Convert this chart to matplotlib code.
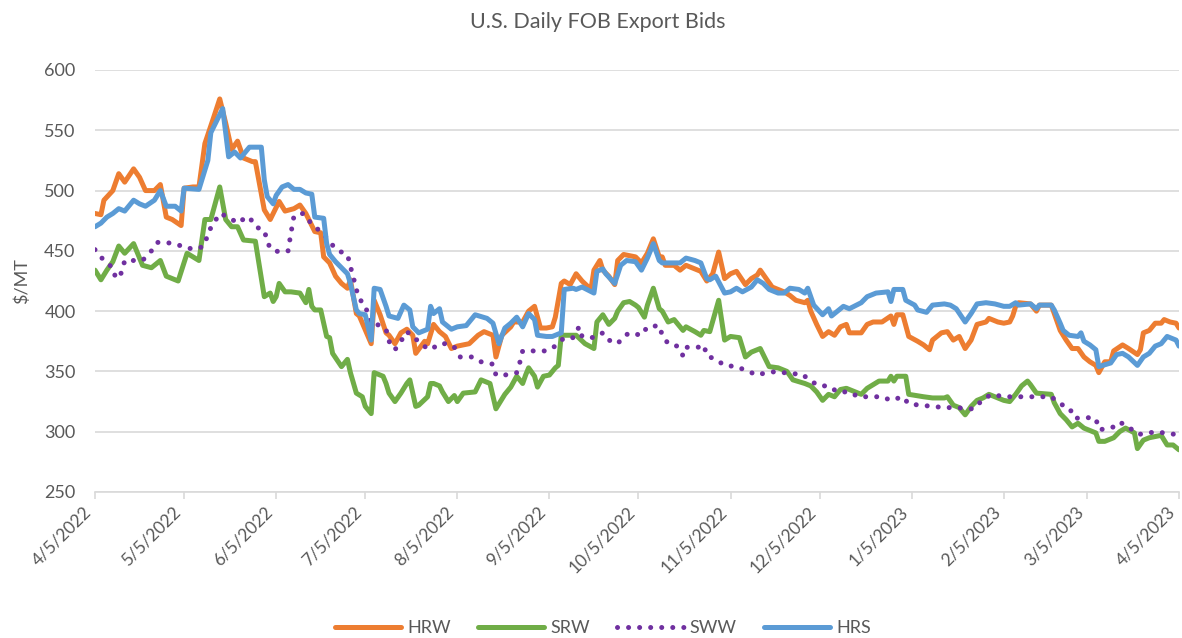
import pandas as pd
import matplotlib
matplotlib.use('Agg')
import matplotlib.pyplot as plt

plt.rcParams['font.family'] = ['Lato', 'DejaVu Sans']

start = pd.Timestamp('2022-04-05')
end = pd.Timestamp('2023-04-05')

# days counted from 4/5/2022, values in $/MT
hrw_day = [0, 2, 3, 6, 8, 10, 13, 15, 17, 20, 22, 24, 26, 29, 30, 33, 35, 37, 40, 42,
           44, 46, 48, 50, 53, 54, 57, 59, 62, 64, 67, 69, 71, 72, 74, 76, 77, 79, 81, 83,
           85, 86, 88, 89, 93, 94, 96, 98, 99, 101, 103, 105, 107, 108, 111, 112, 114, 116, 118, 120,
           122, 124, 126, 129, 131, 134, 135, 137, 140, 141, 144, 146, 148, 150, 152, 154, 155, 157, 158, 160,
           162, 164, 167, 168, 170, 171, 173, 175, 176, 178, 182, 184, 186, 188, 190, 191, 192, 195, 197, 199,
           201, 204, 206, 208, 210, 212, 214, 216, 219, 221, 223, 224, 226, 228, 230, 232, 234, 236, 239, 240,
           241, 243, 245, 247, 249, 251, 253, 254, 258, 260, 262, 265, 268, 269, 270, 272, 274, 277, 279, 281,
           282, 285, 287, 289, 291, 293, 295, 297, 300, 301, 304, 306, 308, 309, 310, 311, 315, 317, 318, 322,
           323, 325, 327, 329, 331, 333, 335, 337, 338, 340, 342, 343, 346, 348, 351, 352, 353, 355, 357, 359,
           360, 362, 364, 365]
hrw = [481, 480, 492, 500, 514, 507, 518, 511, 500, 500, 505, 478, 476, 471, 502, 503, 503, 539, 561, 576,
       556, 534, 541, 527, 524, 524, 484, 476, 491, 483, 485, 488, 481, 476, 466, 465, 445, 440, 429, 423,
       419, 426, 398, 396, 373, 409, 397, 382, 380, 373, 382, 385, 380, 365, 375, 373, 389, 383, 379, 369,
       371, 372, 373, 380, 383, 380, 362, 380, 387, 391, 391, 400, 404, 386, 386, 387, 395, 423, 425, 422,
       431, 425, 418, 434, 442, 434, 429, 422, 442, 447, 445, 440, 448, 460, 445, 445, 438, 438, 434, 438,
       436, 433, 425, 431, 449, 427, 431, 433, 422, 427, 430, 434, 427, 420, 418, 416, 413, 409, 407, 409,
       400, 389, 379, 383, 380, 387, 389, 382, 382, 389, 391, 391, 396, 389, 397, 397, 379, 375, 372, 368,
       376, 382, 383, 376, 379, 369, 376, 389, 391, 394, 391, 390, 391, 396, 404, 407, 406, 400, 405, 405,
       398, 384, 376, 369, 369, 362, 358, 355, 349, 358, 358, 367, 372, 369, 364, 368, 382, 384, 390, 390,
       393, 391, 390, 386]

srw_day = [0, 2, 4, 6, 8, 10, 13, 16, 19, 22, 24, 28, 31, 35, 37, 39, 42, 44, 46, 48,
           50, 54, 57, 59, 60, 61, 62, 64, 66, 69, 71, 72, 73, 74, 76, 78, 79, 80, 83, 85,
           86, 88, 90, 91, 93, 94, 97, 98, 99, 101, 103, 105, 106, 108, 109, 112, 113, 114, 116, 117,
           119, 121, 122, 124, 128, 130, 133, 135, 138, 140, 142, 144, 145, 146, 148, 149, 151, 153, 155, 156,
           157, 160, 162, 165, 168, 169, 171, 173, 175, 176, 178, 180, 182, 183, 185, 186, 188, 190, 191, 193,
           195, 198, 199, 202, 204, 205, 207, 210, 212, 214, 217, 219, 221, 224, 227, 230, 233, 235, 239, 241,
           243, 245, 247, 249, 251, 253, 258, 260, 262, 264, 267, 268, 269, 270, 273, 274, 279, 282, 286, 287,
           289, 291, 293, 295, 297, 299, 301, 304, 306, 308, 310, 312, 314, 315, 317, 322, 323, 325, 327, 329,
           331, 333, 336, 337, 338, 340, 343, 345, 347, 350, 351, 353, 355, 357, 359, 361, 363, 365]
srw = [434, 426, 434, 441, 454, 448, 456, 438, 436, 442, 429, 425, 448, 442, 476, 476, 503, 476, 470, 470,
       459, 458, 412, 415, 408, 412, 423, 416, 416, 415, 407, 418, 404, 401, 401, 379, 378, 365, 354, 360,
       349, 332, 329, 321, 315, 349, 346, 340, 332, 325, 332, 340, 343, 321, 322, 329, 340, 340, 338, 333,
       325, 330, 325, 332, 333, 343, 340, 319, 331, 337, 346, 340, 347, 353, 346, 337, 346, 347, 353, 355,
       380, 380, 380, 373, 369, 391, 397, 389, 394, 400, 407, 408, 405, 403, 395, 405, 419, 402, 400, 391,
       393, 384, 387, 383, 380, 384, 383, 409, 376, 379, 378, 362, 366, 369, 354, 353, 350, 343, 340, 338,
       333, 326, 331, 329, 335, 336, 331, 336, 339, 342, 342, 346, 342, 346, 346, 331, 329, 328, 328, 329,
       322, 320, 314, 321, 326, 328, 331, 328, 326, 325, 331, 338, 342, 339, 332, 331, 324, 315, 310, 304,
       307, 303, 300, 299, 292, 292, 295, 300, 303, 299, 286, 293, 295, 296, 297, 289, 289, 285]

sww_day = [0, 3, 6, 7, 9, 10, 13, 16, 19, 21, 24, 28, 31, 35, 37, 38, 40, 42, 45, 48,
           51, 52, 54, 57, 58, 59, 62, 65, 66, 67, 70, 72, 75, 77, 79, 82, 85, 86, 87, 88,
           89, 91, 92, 93, 95, 98, 99, 101, 103, 105, 108, 110, 113, 116, 119, 121, 123, 127, 130, 134,
           135, 138, 142, 143, 144, 148, 152, 155, 158, 161, 163, 164, 168, 171, 173, 176, 178, 180, 184, 186,
           190, 191, 193, 196, 198, 199, 203, 205, 206, 209, 212, 216, 219, 223, 226, 230, 234, 238, 241, 244,
           247, 250, 254, 257, 261, 265, 268, 272, 274, 278, 282, 286, 290, 294, 296, 299, 302, 306, 310, 314,
           318, 322, 325, 328, 330, 333, 337, 338, 340, 343, 345, 348, 351, 353, 357, 360, 363, 365]
sww = [451, 442, 436, 427, 432, 442, 442, 442, 450, 457, 457, 455, 452, 452, 455, 465, 473, 481, 478, 473,
       478, 478, 470, 467, 458, 452, 449, 450, 465, 479, 481, 475, 468, 464, 457, 450, 447, 437, 428, 418,
       410, 405, 396, 389, 389, 385, 375, 368, 375, 383, 377, 372, 368, 373, 373, 370, 362, 362, 358, 356,
       347, 347, 349, 357, 367, 367, 367, 371, 378, 378, 387, 379, 378, 382, 376, 373, 379, 382, 380, 387,
       388, 380, 373, 371, 363, 370, 370, 372, 363, 360, 355, 354, 351, 347, 349, 350, 348, 348, 342, 338,
       338, 333, 333, 329, 329, 329, 326, 329, 323, 322, 321, 320, 320, 319, 319, 327, 331, 329, 329, 329,
       329, 329, 323, 320, 311, 312, 311, 302, 302, 304, 308, 304, 298, 298, 300, 299, 298, 298]

hrs_day = [0, 2, 4, 6, 8, 10, 13, 15, 17, 20, 22, 24, 27, 29, 30, 35, 38, 39, 43, 45,
           47, 49, 52, 56, 57, 58, 60, 61, 63, 65, 67, 69, 71, 73, 74, 77, 78, 79, 81, 83,
           85, 86, 88, 89, 91, 93, 94, 96, 98, 99, 102, 104, 106, 107, 109, 112, 113, 114, 116, 117,
           120, 122, 125, 128, 132, 134, 136, 138, 140, 142, 144, 146, 148, 149, 152, 154, 157, 158, 161, 162,
           164, 168, 169, 171, 172, 175, 177, 179, 182, 184, 186, 188, 190, 191, 197, 199, 202, 204, 206, 207,
           209, 212, 214, 216, 218, 221, 223, 225, 227, 230, 232, 234, 237, 239, 240, 241, 242, 245, 247, 248,
           250, 252, 254, 258, 260, 262, 263, 267, 268, 269, 272, 273, 276, 277, 280, 282, 286, 288, 290, 293,
           295, 297, 300, 303, 306, 308, 310, 311, 315, 317, 318, 322, 323, 325, 326, 328, 331, 332, 333, 335,
           337, 338, 342, 344, 346, 348, 351, 353, 355, 357, 359, 361, 364, 365]
hrs = [470, 473, 478, 481, 485, 483, 492, 489, 487, 492, 500, 487, 487, 483, 502, 501, 525, 548, 568, 528,
       532, 527, 536, 536, 509, 495, 489, 496, 503, 505, 501, 501, 498, 497, 478, 477, 456, 447, 441, 436,
       431, 423, 401, 398, 397, 376, 419, 418, 404, 396, 394, 405, 401, 387, 382, 385, 404, 398, 402, 391,
       385, 387, 388, 397, 394, 390, 373, 386, 390, 395, 387, 398, 393, 380, 379, 379, 382, 418, 419, 418,
       420, 415, 433, 435, 431, 423, 438, 442, 441, 434, 444, 456, 442, 440, 440, 444, 442, 440, 427, 426,
       429, 415, 416, 419, 416, 420, 426, 423, 418, 415, 415, 419, 418, 415, 419, 412, 405, 397, 402, 396,
       400, 404, 402, 407, 412, 414, 415, 416, 408, 418, 418, 409, 405, 401, 399, 405, 406, 405, 402, 391,
       398, 406, 407, 406, 404, 404, 407, 405, 406, 402, 405, 405, 401, 390, 384, 380, 379, 382, 375, 372,
       368, 354, 357, 364, 365, 362, 355, 362, 365, 371, 373, 379, 376, 371]

series = [
    ('HRW', hrw_day, hrw, '#ED7D31', '-'),
    ('SRW', srw_day, srw, '#70AD47', '-'),
    ('SWW', sww_day, sww, '#7030A0', (0, (0.01, 2.2))),
    ('HRS', hrs_day, hrs, '#5B9BD5', '-'),
]

grey = '#595959'
gridc = '#D9D9D9'

fig = plt.figure(figsize=(11.82, 6.38), dpi=100)
ax = fig.add_axes([95 / 1182, 1 - 492 / 638, (1179 - 95) / 1182, (492 - 70) / 638])

for name, days, vals, col, ls in series:
    dates = start + pd.to_timedelta(days, unit='D')
    ax.plot(dates, vals, color=col, lw=3.6, ls=ls, label=name,
            solid_joinstyle='round', dash_capstyle='round', solid_capstyle='round')

ax.set_xlim(start, end)
ax.set_ylim(250, 600)
ax.set_yticks(range(250, 601, 50))
ax.grid(axis='y', color=gridc, lw=1.2)
ax.set_axisbelow(True)

months = pd.date_range(start, end, freq=pd.DateOffset(months=1))
ax.set_xticks(months)
ax.set_xticklabels([])
# rotated date labels, each ending just under its tick
for d in months:
    ax.annotate(f'{d.month}/{d.day}/{d.year}', xy=(d, 0), xycoords=('data', 'axes fraction'),
                xytext=(-6, -17), textcoords='offset pixels', rotation=45,
                ha='right', va='center', rotation_mode='anchor',
                color=grey, fontsize=12.5, annotation_clip=False)

for s in ['top', 'right', 'left']:
    ax.spines[s].set_visible(False)
ax.spines['bottom'].set_color(gridc)
ax.spines['bottom'].set_linewidth(1.2)
ax.tick_params(axis='x', length=5, width=1.2, color=gridc)
ax.tick_params(axis='y', colors=grey, labelsize=13, length=0, pad=14)

ax.set_ylabel('$/MT', color=grey, fontsize=13, labelpad=10)
fig.suptitle('U.S. Daily FOB Export Bids', x=598 / 1182, y=1 - 22 / 638, va='center',
             color=grey, fontsize=15.5)

fig.legend(loc='center', bbox_to_anchor=(603 / 1182, 1 - 628 / 638), ncol=4, frameon=False,
           fontsize=13, handlelength=3.67, handletextpad=0.35, columnspacing=1.5,
           labelcolor=grey)

fig.savefig('out.png', dpi=100)
